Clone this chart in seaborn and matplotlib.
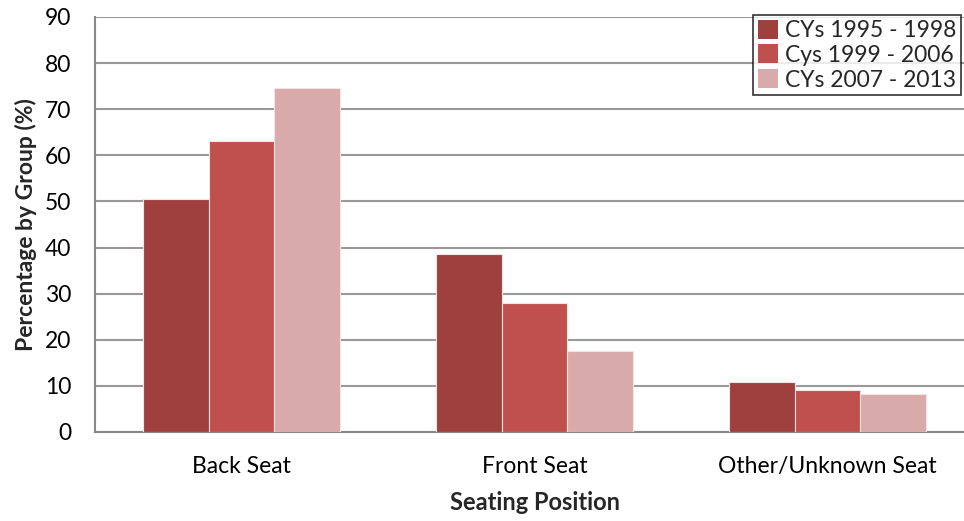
import matplotlib
matplotlib.use("Agg")
import matplotlib.pyplot as plt
import seaborn as sns
import pandas as pd

categories = ["Back Seat", "Front Seat", "Other/Unknown Seat"]
series_names = ["CYs 1995 - 1998", "Cys 1999 - 2006", "CYs 2007 - 2013"]
vals_1995_1998 = [50.5, 38.7, 10.9]
vals_1999_2006 = [63.1, 28.0, 9.2]
vals_2007_2013 = [74.5, 17.6, 8.2]
colors = ["#9E403D", "#C0504D", "#D9AAAA"]

rows = []
for s, vals in zip(series_names, [vals_1995_1998, vals_1999_2006, vals_2007_2013]):
    for c, v in zip(categories, vals):
        rows.append({"Seating Position": c, "Series": s, "Value": v})
df = pd.DataFrame(rows)

sns.set_theme(style="white")
plt.rcParams["font.family"] = ["Lato", "DejaVu Sans"]

fig = plt.figure(figsize=(9.64, 5.21), dpi=100)
ax = fig.add_axes([95 / 964, 1 - 432 / 521, (974 - 95) / 964, (432 - 17) / 521])

sns.barplot(data=df, x="Seating Position", y="Value", hue="Series",
            palette=colors, saturation=1, width=0.675, gap=0, ax=ax,
            edgecolor="#F3E3E3", linewidth=0.8, zorder=3)

ax.set_ylim(0, 90)
ax.set_xlim(-0.5, 2.5)
ax.set_yticks(range(0, 91, 10))
ax.yaxis.grid(True, color="#999999", linewidth=1.5, zorder=0)
ax.set_axisbelow(True)

for side in ["top", "right"]:
    ax.spines[side].set_visible(False)
for side in ["left", "bottom"]:
    ax.spines[side].set_color("#888888")
    ax.spines[side].set_linewidth(1.5)

ax.tick_params(axis="y", length=8, width=1.3, color="#888888", direction="out",
               labelsize=16.5, pad=9, labelcolor="black")
ax.tick_params(axis="x", which="major", length=0, labelsize=16.5, pad=17, labelcolor="black")
ax.set_xticks([-0.5, 0.5, 1.5, 2.5], minor=True)
ax.tick_params(axis="x", which="minor", length=7, width=1.3, color="#888888", direction="out")

ax.set_xlabel("Seating Position", fontsize=17, fontweight="bold", labelpad=10)
ax.set_ylabel("Percentage by Group (%)", fontsize=16.5, fontweight="bold", labelpad=6)

leg = ax.legend(title=None, loc="upper right", bbox_to_anchor=((961 - 95) / (974 - 95), 1.005),
                fontsize=16.5, frameon=True, fancybox=False, edgecolor="black",
                handlelength=0.9, handleheight=0.9, handletextpad=0.3,
                borderpad=0.2, labelspacing=0.15, borderaxespad=0)
leg.get_frame().set_linewidth(1.2)
for h in leg.legend_handles:
    h.set_edgecolor("none")

fig.savefig("out.png", dpi=100)
